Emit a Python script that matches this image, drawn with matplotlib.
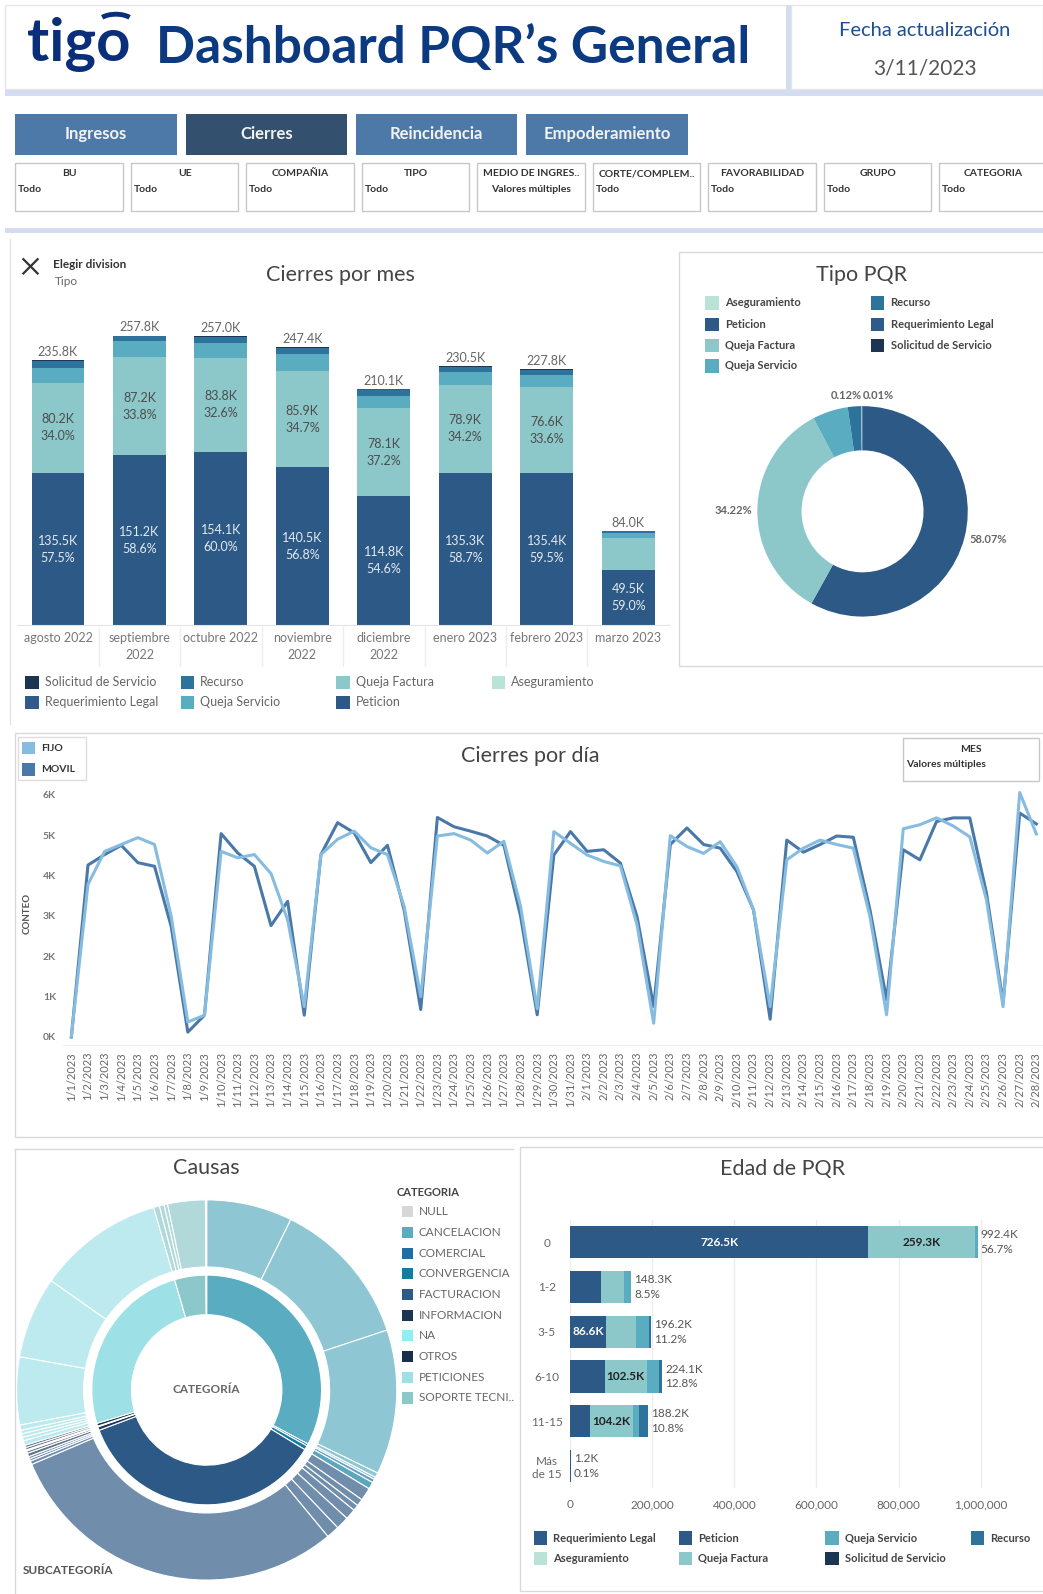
import numpy as np
import pandas as pd
import matplotlib
matplotlib.use("Agg")
import matplotlib.pyplot as plt
from matplotlib.patches import Rectangle, Arc
from matplotlib.colors import to_rgba

plt.rcParams['font.family'] = ['Lato', 'DejaVu Sans']
NARROW = ['Liberation Sans Narrow', 'Lato', 'DejaVu Sans']

# marco de referencia en px (la figura se guarda a 1043x1594)
W, H = 1026, 1568

# ---------------- datos ----------------
meses = ["agosto 2022", "septiembre\n2022", "octubre 2022", "noviembre\n2022",
         "diciembre\n2022", "enero 2023", "febrero 2023", "marzo 2023"]
peticion_mes = [135.5, 151.2, 154.1, 140.5, 114.8, 135.3, 135.4, 49.5]
queja_factura_mes = [80.2, 87.2, 83.8, 85.9, 78.1, 78.9, 76.6, 28.5]
queja_servicio_mes = [13.5, 14.6, 13.6, 14.6, 11.0, 11.0, 10.3, 4.2]
recurso_mes = [5.5, 4.0, 4.7, 5.6, 5.4, 4.5, 4.7, 1.5]
req_legal_mes = [0.8, 0.5, 0.5, 0.5, 0.5, 0.5, 0.5, 0.2]
solicitud_mes = [0.3, 0.3, 0.3, 0.3, 0.3, 0.3, 0.3, 0.1]
pct_peticion_mes = [57.5, 58.6, 60.0, 56.8, 54.6, 58.7, 59.5, 59.0]
pct_factura_mes = [34.0, 33.8, 32.6, 34.7, 37.2, 34.2, 33.6, None]

tipo_names = ["Peticion", "Queja Factura", "Queja Servicio", "Recurso",
              "Aseguramiento", "Requerimiento Legal", "Solicitud de Servicio"]
tipo_pct = [58.07, 34.22, 5.45, 2.05, 0.08, 0.12, 0.01]

fijo = [0.02, 3.78, 4.6, 4.77, 4.94, 4.77, 2.99, 0.37, 0.54, 4.6,
        4.44, 4.52, 4.05, 2.9, 0.75, 4.52, 4.9, 5.1, 4.69, 4.52,
        3.24, 1.0, 4.98, 5.04, 4.88, 4.56, 4.85, 3.24, 0.7, 5.09, 4.8,
        4.51, 4.35, 4.24, 2.78, 0.34, 4.99, 4.72, 4.55, 4.84, 4.22,
        3.15, 0.75, 4.39, 4.68, 4.88, 4.77, 4.68, 2.98, 0.55, 5.16,
        5.26, 5.43, 5.23, 4.96, 3.4, 0.75, 6.06, 5.03]
movil = [0.0, 4.26, 4.52, 4.75, 4.32, 4.23, 2.74, 0.12, 0.54, 5.04,
         4.56, 4.23, 2.76, 3.36, 0.54, 4.52, 5.31, 5.06, 4.32, 4.75,
         3.15, 0.68, 5.44, 5.21, 5.1, 4.98, 4.75, 2.99, 0.55, 4.51, 5.09,
         4.6, 4.64, 4.31, 2.98, 0.75, 4.77, 5.18, 4.77, 4.68, 4.1,
         3.15, 0.44, 4.88, 4.58, 4.77, 4.98, 4.95, 3.15, 0.92, 4.64,
         4.39, 5.34, 5.43, 5.43, 3.57, 0.85, 5.55, 5.28]
dias = pd.date_range("2023-01-01", "2023-02-28")
dias_lbl = [f"{d.month}/{d.day}/{d.year}" for d in dias]

cat_names = ["CANCELACION", "COMERCIAL", "CONVERGENCIA", "FACTURACION", "INFORMACION",
             "NA", "OTROS", "PETICIONES", "SOPORTE TECNICO", "NULL"]
cat_vals = [32.8, 0.3, 0.6, 35.6, 0.5, 0.1, 0.4, 25.2, 4.4, 0.1]
sub_vals = [
    [7.3, 12.6, 12.3, 0.4, 0.2],
    [0.3],
    [0.6],
    [1.1, 0.6, 0.5, 0.9, 1.1, 1.1, 29.6, 0.3, 0.2, 0.2],
    [0.3, 0.2],
    [0.1],
    [0.2, 0.2],
    [0.4, 0.3, 0.3, 0.3, 0.45, 5.75, 6.95, 10.75],
    [0.5, 0.4, 0.3, 3.2],
    [0.1],
]

edades = ["0", "1-2", "3-5", "6-10", "11-15", "Más\nde 15"]
edad_peticion = [726.5, 76.0, 86.6, 83.7, 48.4, 0.5]
edad_queja_factura = [259.3, 55.0, 74.0, 102.5, 104.2, 0.0]
edad_queja_servicio = [6.6, 16.5, 32.0, 31.0, 15.5, 0.4]
edad_recurso = [0.0, 0.8, 3.6, 6.9, 20.1, 0.3]

# ---------------- colores ----------------
tipo_col = {"Peticion": "#2c5985", "Queja Factura": "#8cc7c9", "Queja Servicio": "#5aacc0",
            "Recurso": "#2e739b", "Requerimiento Legal": "#2f5b8a",
            "Solicitud de Servicio": "#1b3553", "Aseguramiento": "#b9e3d6"}
cat_col = {"NULL": "#d7d7d7", "CANCELACION": "#5aacc0", "COMERCIAL": "#1f6fa6",
           "CONVERGENCIA": "#0f7ea0", "FACTURACION": "#2c5985", "INFORMACION": "#1c3553",
           "NA": "#8ff0ef", "OTROS": "#1a2f4a", "PETICIONES": "#9de0e6",
           "SOPORTE TECNICO": "#8cc7c9"}
GRID = "#d9d9d9"
TXT = "#555555"
TITLE = dict(fontsize=15.5, color='#444', ha='center', va='center')

fig = plt.figure(figsize=(10.43, 15.94), dpi=100)
bg = fig.add_axes([0, 0, 1, 1])
bg.set_xlim(0, W)
bg.set_ylim(H, 0)
bg.axis('off')


def axes_px(x0, y0, x1, y1):
    ax = fig.add_axes([x0 / W, 1 - y1 / H, (x1 - x0) / W, (y1 - y0) / H])
    ax.set_facecolor('none')
    return ax


def box(x0, y0, x1, y1, fc='none', ec=GRID, lw=1):
    bg.add_patch(Rectangle((x0, y0), x1 - x0, y1 - y0, fc=fc, ec=ec, lw=lw))


def legend_px(items, size=12, fs=8.5, weight='normal', color=TXT, colors=tipo_col, short=None):
    short = short or {}
    for name, x, y in items:
        bg.add_patch(Rectangle((x, y - size / 2), size, size, fc=colors[name], ec='none'))
        bg.text(x + size + 6, y, short.get(name, name), fontsize=fs, fontweight=weight,
                color=color, va='center')


# ---------------- encabezado ----------------
box(5, 5, 775, 88, ec='#e6e6e6')
box(778, 5, 1026, 88, ec='#e6e6e6')
bg.add_patch(Rectangle((773, 5), 5, 85, fc='#d3ddef', ec='none'))
bg.add_patch(Rectangle((5, 89), 1021, 5, fc='#d3ddef', ec='none'))
bg.add_patch(Rectangle((5, 224), 1021, 5, fc='#d3ddef', ec='none'))

bg.text(27, 44, "tigo", fontsize=43, fontweight='bold', color='#0a2e7a', va='center')
bg.add_patch(Arc((114, 22), 34, 16, theta1=200, theta2=340, color='#0a2e7a', lw=3.5))
bg.text(153, 48, "Dashboard PQR\u2019s General", fontsize=37, fontweight='bold',
        color='#0b3a80', va='center')
bg.text(910, 30, "Fecha actualización", fontsize=14.5, color='#1e4f8f', ha='center',
        va='center', family=NARROW)
bg.text(910, 67, "3/11/2023", fontsize=15, color='#555555', ha='center', va='center',
        family=NARROW)

botones = ["Ingresos", "Cierres", "Reincidencia", "Empoderamiento"]
for i, b in enumerate(botones):
    x0 = 15 + i * 167.5
    box(x0, 112, x0 + 159, 152, fc='#33506f' if b == "Cierres" else '#4d79a8', ec='none')
    bg.text(x0 + 79.5, 132, b, fontsize=12, fontweight='bold', color='#f2f2f2',
            ha='center', va='center', family=NARROW)

filtros = ["BU", "UE", "COMPAÑIA", "TIPO", "MEDIO DE INGRES..", "CORTE/COMPLEM..",
           "FAVORABILIDAD", "GRUPO", "CATEGORIA"]
valores = ["Todo", "Todo", "Todo", "Todo", "Valores múltiples", "Todo", "Todo", "Todo", "Todo"]
for i, (f, v) in enumerate(zip(filtros, valores)):
    x0 = 15 + i * 113.6
    box(x0, 160, min(x0 + 106, 1030), 208, ec='#c8c8c8')
    bg.text(x0 + 53, 171, f, fontsize=7.5, fontweight='bold', color='#333', ha='center',
            va='center', family=NARROW)
    if v == "Todo":
        bg.text(x0 + 3, 186, v, fontsize=7.5, fontweight='bold', color='#333', va='center',
                family=NARROW)
    else:
        bg.text(x0 + 53, 186, v, fontsize=7.5, fontweight='bold', color='#333', ha='center',
                va='center', family=NARROW)

# ---------------- Cierres por mes ----------------
bg.plot([10, 10], [235, 712], color='#e3e3e3', lw=1)
bg.plot([23, 37], [255, 269], color='#333', lw=1.6)
bg.plot([23, 37], [269, 255], color='#333', lw=1.6)
bg.text(52, 260, "Elegir division", fontsize=8.5, fontweight='bold', color='#333', va='center')
bg.text(54, 277, "Tipo", fontsize=8.5, color='#666', va='center')
bg.text(335, 271, "Cierres por mes", **TITLE)

ax1 = axes_px(17, 300, 658, 615)
x = np.arange(len(meses))
series_mes = [("Peticion", peticion_mes), ("Queja Factura", queja_factura_mes),
              ("Queja Servicio", queja_servicio_mes), ("Recurso", recurso_mes),
              ("Requerimiento Legal", req_legal_mes), ("Solicitud de Servicio", solicitud_mes)]
bottom = np.zeros(len(meses))
for name, vals in series_mes:
    ax1.bar(x, vals, 0.65, bottom=bottom, color=tipo_col[name], lw=0)
    bottom += np.array(vals)
for i in range(len(meses)):
    p, q, t = peticion_mes[i], queja_factura_mes[i], bottom[i]
    ax1.text(i, p / 2, f"{p:.1f}K\n{pct_peticion_mes[i]:.1f}%", ha='center', va='center',
             fontsize=9, color='#e3eaf2', linespacing=1.5)
    if pct_factura_mes[i] is not None:
        ax1.text(i, p + q / 2, f"{q:.1f}K\n{pct_factura_mes[i]:.1f}%", ha='center',
                 va='center', fontsize=9, color='#4d4d4d', linespacing=1.5)
    ax1.text(i, t + 2, f"{t:.1f}K", ha='center', va='bottom', fontsize=9, color='#666')
ax1.set_xlim(-0.5, len(meses) - 0.5)
ax1.set_ylim(0, 285)
ax1.set_yticks([])
ax1.set_xticks(x)
ax1.set_xticklabels(meses, fontsize=9, color='#777', linespacing=1.5)
ax1.tick_params(axis='x', length=0, pad=5)
for s in ['top', 'right', 'left']:
    ax1.spines[s].set_visible(False)
ax1.spines['bottom'].set_color('#e3e3e3')
for k in range(1, len(meses)):
    xs = 17 + k * (641 / len(meses))
    bg.plot([xs, xs], [617, 655], color='#eeeeee', lw=1)

legend_px([("Solicitud de Servicio", 25, 671), ("Requerimiento Legal", 25, 691),
           ("Recurso", 178, 671), ("Queja Servicio", 178, 691),
           ("Queja Factura", 331, 671), ("Peticion", 331, 691),
           ("Aseguramiento", 484, 671)], size=13, fs=9, color='#666')

# ---------------- Tipo PQR ----------------
box(668, 248, 1030, 655)
bg.text(848, 271, "Tipo PQR", **TITLE)
legend_px([("Aseguramiento", 694, 298), ("Peticion", 694, 319), ("Queja Factura", 694, 340),
           ("Queja Servicio", 694, 360), ("Recurso", 857, 298),
           ("Requerimiento Legal", 857, 319), ("Solicitud de Servicio", 857, 340)],
          size=13, fs=8, weight='bold', color='#444')

axp = axes_px(728.5, 383, 968.5, 623)
R = 0.8625
wedges, _ = axp.pie(tipo_pct, colors=[tipo_col[n] for n in tipo_names], radius=R,
                    startangle=90, counterclock=False,
                    wedgeprops=dict(width=0.3625, lw=0))
axp.set_xlim(-1, 1)
axp.set_ylim(-1, 1)
pie_label_ha = {"Peticion": "left", "Queja Factura": "right",
                "Requerimiento Legal": "right", "Solicitud de Servicio": "left"}
for w, name, v in zip(wedges, tipo_names, tipo_pct):
    if name not in pie_label_ha:
        continue
    ang = np.deg2rad((w.theta1 + w.theta2) / 2)
    rr = 1.05 * R if name in ("Peticion", "Queja Factura") else 1.1 * R
    axp.text(rr * np.cos(ang), rr * np.sin(ang), f"{v:.2f}%", ha=pie_label_ha[name],
             va='center', fontsize=8, fontweight='bold', color='#666')

# ---------------- Cierres por día ----------------
box(15, 721, 1030, 1118)
bg.text(522, 744, "Cierres por día", **TITLE)
box(18, 725, 85, 767, ec='#dddddd')
legend_px([("FIJO", 22, 736), ("MOVIL", 22, 757)], size=12, fs=7.5, weight='bold',
          color='#333', colors={"FIJO": "#86bcdf", "MOVIL": "#4a78a8"})
box(888, 726, 1022, 768, ec='#c8c8c8')
bg.text(955, 737, "MES", fontsize=7.5, fontweight='bold', color='#333', ha='center', va='center')
bg.text(891, 752, "Valores múltiples", fontsize=7.5, fontweight='bold', color='#333', va='center')

ax2 = axes_px(62, 770, 1026, 1028)
xd = np.arange(len(dias))
ax2.plot(xd, movil, color='#4a78a8', lw=2.2)
ax2.plot(xd, fijo, color='#86bcdf', lw=2.2)
ax2.set_xlim(-0.5, 58.4)
ax2.set_ylim(-0.2, 6.3)
ax2.set_yticks(range(7))
ax2.set_yticklabels([f"{k}K" for k in range(7)], fontsize=7.5, fontweight='bold', color='#777')
ax2.set_xticks(xd)
ax2.set_xticklabels(dias_lbl, rotation=90, fontsize=8, color='#666')
ax2.tick_params(length=0, pad=5)
ax2.set_ylabel("CONTEO", fontsize=7, fontweight='bold', color='#555', labelpad=8)
for s in ['top', 'right', 'left']:
    ax2.spines[s].set_visible(False)
ax2.spines['bottom'].set_color('#eeeeee')

# ---------------- Causas ----------------
bg.plot([15, 505], [1130, 1130], color=GRID, lw=1)
bg.plot([15, 15], [1130, 1568], color=GRID, lw=1)
bg.text(203, 1149, "Causas", **TITLE)

ax3 = axes_px(3.3, 1167.3, 403.3, 1567.3)
ax3.pie(cat_vals, colors=[cat_col[n] for n in cat_names], radius=0.565, startangle=90,
        counterclock=False, wedgeprops=dict(width=0.195, ec='white', lw=0.8))
sub_flat = [v for sv in sub_vals for v in sv]
sub_colors = [to_rgba(cat_col[n], 0.68) for n, sv in zip(cat_names, sub_vals) for _ in sv]
ax3.pie(sub_flat, colors=sub_colors, radius=0.935, startangle=90, counterclock=False,
        wedgeprops=dict(width=0.33, ec='white', lw=0.8))
ax3.set_xlim(-1, 1)
ax3.set_ylim(-1, 1)
ax3.text(0, 0, "CATEGORÍA", ha='center', va='center', fontsize=8.5, fontweight='bold', color='#666')
bg.text(22, 1545, "SUBCATEGORÍA", fontsize=8.5, fontweight='bold', color='#555', va='center')

bg.text(390, 1173, "CATEGORIA", fontsize=8, fontweight='bold', color='#444', va='center')
leg_cats = ["NULL"] + [n for n in cat_names if n != "NULL"]
legend_px([(n, 395, 1192 + k * 20.35) for k, n in enumerate(leg_cats)], size=11, fs=8.5,
          color='#666', colors=cat_col, short={"SOPORTE TECNICO": "SOPORTE TECNI.."})

# ---------------- Edad de PQR ----------------
box(512, 1128, 1030, 1565)
bg.text(770, 1150, "Edad de PQR", **TITLE)

ax4 = axes_px(561, 1200, 1005, 1464)
yb = np.arange(len(edades))
series_edad = [("Peticion", edad_peticion), ("Queja Factura", edad_queja_factura),
               ("Queja Servicio", edad_queja_servicio), ("Recurso", edad_recurso)]
left = np.zeros(len(edades))
for name, vals in series_edad:
    ax4.barh(yb, np.array(vals) * 1000, 0.72, left=left, color=tipo_col[name], lw=0, zorder=2)
    left += np.array(vals) * 1000
gran_total = left.sum()
for i in range(len(edades)):
    ax4.text(left[i] + 8000, i, f"{left[i] / 1000:.1f}K\n{left[i] / gran_total * 100:.1f}%",
             va='center', ha='left', fontsize=8.5, color='#555', linespacing=1.4)
inside = [(0, "Peticion"), (0, "Queja Factura"), (2, "Peticion"), (3, "Queja Factura"),
          (4, "Queja Factura")]
for i, name in inside:
    if name == "Peticion":
        v, x0, c = edad_peticion[i], 0, 'white'
    else:
        v, x0, c = edad_queja_factura[i], edad_peticion[i], '#222'
    ax4.text((x0 + v / 2) * 1000, i, f"{v:.1f}K", ha='center', va='center', fontsize=8.5,
             fontweight='bold', color=c)
ax4.set_xlim(0, 1.1e6)
ax4.set_ylim(len(edades) - 0.5, -0.5)
ax4.set_xticks(np.arange(0, 1.0e6 + 1, 2e5))
ax4.set_xticklabels([f"{int(t):,}" for t in np.arange(0, 1.0e6 + 1, 2e5)], fontsize=8.5, color='#666')
ax4.set_yticks(yb)
ax4.set_yticklabels(edades, fontsize=8.5, color='#666', ha='center')
ax4.tick_params(axis='y', length=0, pad=17)
ax4.tick_params(axis='x', length=0, pad=8)
ax4.grid(axis='x', color='#ececec', lw=1, zorder=0)
for s in ax4.spines.values():
    s.set_visible(False)

legend_px([("Requerimiento Legal", 525, 1513), ("Peticion", 668, 1513),
           ("Queja Servicio", 812, 1513), ("Recurso", 955, 1513),
           ("Aseguramiento", 525, 1533), ("Queja Factura", 668, 1533),
           ("Solicitud de Servicio", 812, 1533)], size=13, fs=8, weight='bold', color='#444')

fig.savefig("out.png", dpi=100, facecolor='white')
